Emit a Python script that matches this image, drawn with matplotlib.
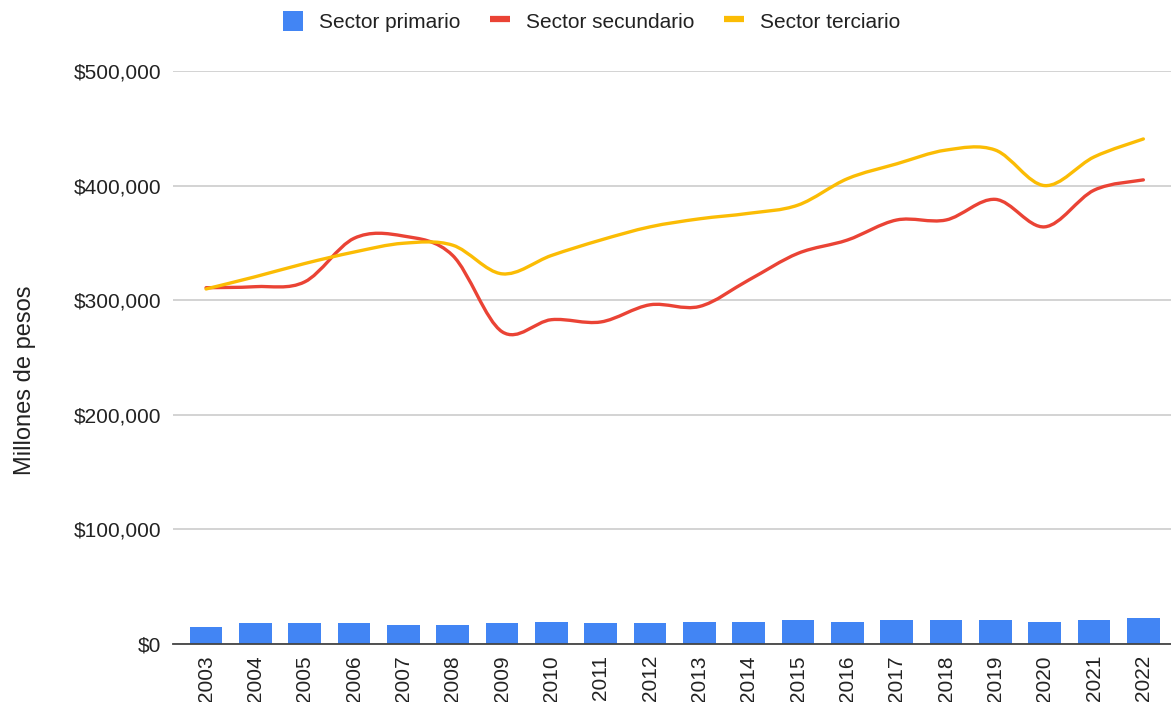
import numpy as np
import matplotlib
matplotlib.use('Agg')
import matplotlib.pyplot as plt
from matplotlib.path import Path
from matplotlib.patches import PathPatch, Patch
from matplotlib.lines import Line2D
from matplotlib.ticker import FuncFormatter

plt.rcParams['font.family'] = ['Liberation Sans', 'DejaVu Sans']

# Data (millones de pesos)
# ------------------------------------------------------------------------------
years = [str(y) for y in range(2003, 2023)]
primario = [14800, 18300, 18300, 18300, 16600, 16600, 18300, 19500, 18300, 18300,
            19500, 19500, 20900, 19500, 20900, 20900, 20900, 19500, 20900, 22400]
secundario = [310900, 311800, 316000, 354000, 356000, 339000, 272500, 283000, 281000, 296000,
              294500, 317600, 340900, 352500, 370000, 370000, 388000, 364000, 396000, 405000]
terciario = [309800, 320500, 332000, 342000, 349700, 348000, 323000, 339000, 352500, 364000,
             371000, 375800, 383000, 406000, 419000, 431000, 431000, 400000, 425000, 440700]

BLUE = '#4285F4'
RED = '#EA4335'
YELLOW = '#FBBC04'
TXT = '#222222'


def smooth_path(x, y):
    # Catmull-Rom style curve drawn as cubic bezier segments
    x = np.asarray(x, float)
    y = np.asarray(y, float)
    pts = np.column_stack([x, y])
    verts = [pts[0]]
    codes = [Path.MOVETO]
    n = len(pts)
    for i in range(n - 1):
        p0 = pts[i - 1] if i > 0 else pts[i]
        p1 = pts[i]
        p2 = pts[i + 1]
        p3 = pts[i + 2] if i + 2 < n else pts[i + 1]
        c1 = p1 + (p2 - p0) / 6
        c2 = p2 - (p3 - p1) / 6
        verts += [c1, c2, p2]
        codes += [Path.CURVE4] * 3
    return Path(verts, codes)


fig = plt.figure(figsize=(11.71, 7.02), dpi=100)
ax = fig.add_axes([173 / 1171, 58 / 702, 998 / 1171, 573 / 702])

xs = np.arange(len(years))
ax.bar(xs, primario, width=0.66, color=BLUE, zorder=2)

for vals, col in [(secundario, RED), (terciario, YELLOW)]:
    ax.add_patch(PathPatch(smooth_path(xs, vals), facecolor='none', edgecolor=col,
                           lw=2.4, zorder=3, capstyle='round'))

ax.set_xlim(-0.67, len(years) - 0.44)
ax.set_ylim(0, 500000)
ax.set_yticks(np.arange(0, 500001, 100000))
ax.yaxis.set_major_formatter(FuncFormatter(lambda v, p: f'${v:,.0f}'))
ax.set_xticks(xs)
ax.set_xticklabels(years, rotation=90)
ax.tick_params(axis='both', length=0, labelsize=15, colors=TXT)
ax.tick_params(axis='y', pad=8.5)
ax.tick_params(axis='x', pad=8)
ax.grid(axis='y', color='#cccccc', lw=1.2, zorder=0)
ax.set_axisbelow(True)
for s in ['top', 'right', 'left']:
    ax.spines[s].set_visible(False)
ax.spines['bottom'].set_color('#444444')
ax.spines['bottom'].set_linewidth(1.3)
ax.spines['bottom'].set_zorder(4)

fig.text(0.021, 0.459, 'Millones de pesos', rotation=90, va='center', ha='center',
         fontsize=17, color=TXT)

handles = [Patch(facecolor=BLUE, edgecolor='none'),
           Line2D([], [], color=RED, lw=4.5, solid_capstyle='butt'),
           Line2D([], [], color=YELLOW, lw=4.5, solid_capstyle='butt')]
fig.legend(handles, ['Sector primario', 'Sector secundario', 'Sector terciario'],
           loc='center', bbox_to_anchor=(0.505, 0.970), ncol=3, frameon=False,
           fontsize=15, handlelength=1.0, handleheight=1.1, columnspacing=1.4,
           handletextpad=0.75, labelcolor=TXT, borderpad=0)

fig.savefig('out.png', dpi=100)
